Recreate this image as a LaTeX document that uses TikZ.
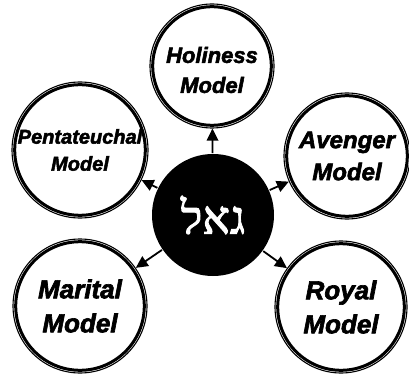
\documentclass[tikz,border=0pt]{standalone}
\usepackage{fontspec}
\usetikzlibrary{arrows.meta}
\newfontfamily\modelfont[FakeBold=2.5]{Liberation Sans}
\newfontfamily\hebfont[Script=Hebrew,FakeBold=2]{Liberation Serif}
\TeXXeTstate=1
\tikzset{
  >={Triangle[length=12pt,width=11.5pt]},
  m/.style={circle,draw,line width=1.1pt,inner sep=0pt,minimum size=#1,align=center,
    path picture={\draw[line width=3pt] (path picture bounding box.center) circle[radius=#1/2-2.7pt];}},
  hub/.style={circle,fill,inner sep=0pt,minimum size=122pt,text=white},
  every picture/.style={line width=1.8pt},
}
\begin{document}
\begin{tikzpicture}[x=1pt,y=-1pt]
\useasboundingbox (0,0) rectangle (409,374);
\node[hub,font=\hebfont\fontsize{46}{46}\selectfont] (g) at (213,215){\beginR גאל\endR};
\node[m=124pt,font=\modelfont\bfseries\itshape\fontsize{22}{30}\selectfont] (hol) at (212,66){\\[-6pt]Holiness\\Model};
\node[m=136pt,font=\modelfont\bfseries\itshape\fontsize{20}{27}\selectfont] (pen) at (80,150){Pentateuchal\\Model};
\node[m=126pt,font=\modelfont\bfseries\itshape\fontsize{24}{32}\selectfont] (ave) at (347,156){Avenger\\Model};
\node[m=134pt,font=\modelfont\bfseries\itshape\fontsize{26}{34}\selectfont] (mar) at (80,306){Marital\\Model};
\node[m=132pt,font=\modelfont\bfseries\itshape\fontsize{26}{34}\selectfont] (roy) at (341,307){Royal\\Model};
\draw[->] (g)--(hol); \draw[->] (g)--(pen); \draw[->] (g)--(ave);
\draw[->] (g)--(mar); \draw[->] (g)--(roy);
\end{tikzpicture}
\end{document}
